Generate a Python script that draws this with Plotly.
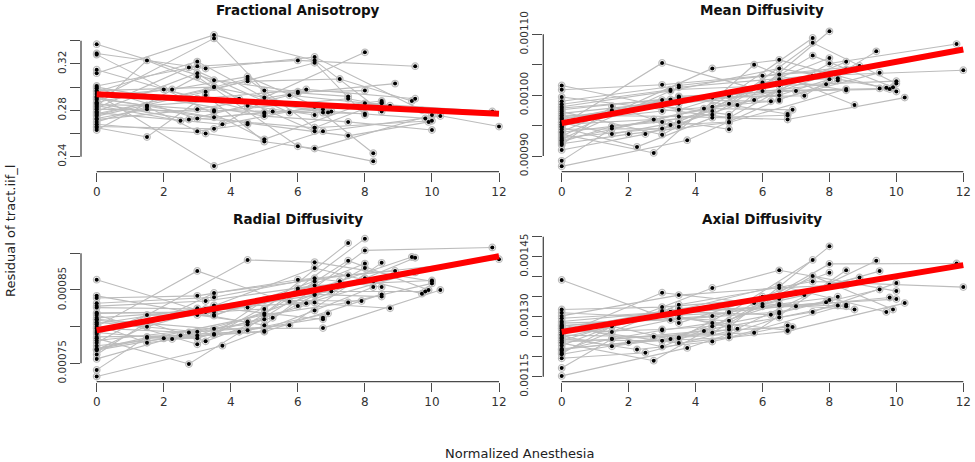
import plotly.graph_objects as go

W, H = 975, 462

# ---------------- data ----------------
# visits (normalized anesthesia) per subject, shared by all four panels
subject_x = [
    [0, 1.5, 3.5, 6.5], [0, 3, 5, 8], [0, 3.5, 6.5, 8.5], [0, 1.5, 3, 4.5],
    [0, 3.5, 5, 7.5], [0, 3, 6, 9.5], [0, 4.5, 6.5, 10], [0, 3.5, 6, 8],
    [0, 1.5, 3.25, 5], [0, 3, 4.5, 6.5], [0, 2.75, 5.75, 8.75], [0, 3.5, 6.75, 10.25],
    [0, 3.25, 6.5, 9.7], [0, 2.25, 4.5, 6.75], [0, 3, 6, 8.25], [0, 5, 8, 11.8],
    [0, 3.5, 7.5, 12], [0, 1.5, 3.5, 5], [0, 3, 6.5, 8.5], [0, 4.5, 7.25, 9.4],
    [0, 3.5, 5, 7.9], [0, 2.5, 5.25, 8], [0, 3, 6.25, 9.5], [0, 1.5, 4.25, 6.9],
    [0, 3.25, 6.5, 10], [0, 3.5, 7, 9.8], [0, 2, 5, 8.5], [0, 3, 6, 8.9],
    [0, 4.5, 7.5, 9.9], [0, 3.75, 6.5, 8.25], [0, 1.5, 3.5, 6.75], [0, 3.25, 6.5, 8],
    [0, 2.75, 5.75, 8.5], [0, 5, 7.5, 10],
]

fa = [
    [0.283, 0.323, 0.300, 0.262], [0.296, 0.322, 0.291, 0.330], [0.312, 0.345, 0.323, 0.279],
    [0.270, 0.283, 0.262, 0.268], [0.289, 0.342, 0.297, 0.292], [0.301, 0.318, 0.323, 0.318],
    [0.276, 0.307, 0.265, 0.271], [0.337, 0.306, 0.296, 0.297], [0.265, 0.257, 0.293, 0.253],
    [0.279, 0.312, 0.284, 0.276], [0.286, 0.272, 0.293, 0.284], [0.294, 0.232, 0.262, 0.275],
    [0.329, 0.316, 0.326, 0.280], [0.292, 0.298, 0.309, 0.281], [0.263, 0.309, 0.249, 0.236],
    [0.328, 0.255, 0.286, 0.279], [0.281, 0.279, 0.290, 0.266], [0.273, 0.281, 0.274, 0.278],
    [0.299, 0.273, 0.265, 0.287], [0.277, 0.305, 0.307, 0.288], [0.266, 0.264, 0.288, 0.282],
    [0.284, 0.271, 0.279, 0.277], [0.315, 0.290, 0.298, 0.290], [0.290, 0.284, 0.290, 0.278],
    [0.268, 0.260, 0.247, 0.276], [0.297, 0.300, 0.279, 0.273], [0.287, 0.298, 0.277, 0.288],
    [0.272, 0.281, 0.295, 0.303], [0.291, 0.269, 0.258, 0.270], [0.278, 0.268, 0.283, 0.243],
    [0.285, 0.284, 0.280, 0.278], [0.275, 0.296, 0.321, 0.276], [0.282, 0.317, 0.278, 0.286],
    [0.300, 0.275, 0.270, 0.263],
]

md = [
    [94.0e-5, 97.5e-5, 98.6e-5, 100.6e-5], [96.2e-5, 98.2e-5, 96.8e-5, 110.5e-5],
    [99.0e-5, 101.6e-5, 103.4e-5, 104.2e-5], [92.3e-5, 94.9e-5, 95.6e-5, 97.4e-5],
    [97.6e-5, 99.6e-5, 99.9e-5, 109.4e-5], [95.1e-5, 105.3e-5, 100.7e-5, 101.1e-5],
    [93.3e-5, 104.4e-5, 105.8e-5, 100.6e-5], [101.6e-5, 97.6e-5, 101.8e-5, 106.1e-5],
    [91.8e-5, 98.2e-5, 95.1e-5, 95.6e-5], [95.6e-5, 97.4e-5, 98.1e-5, 99.1e-5],
    [93.6e-5, 90.5e-5, 105.0e-5, 98.4e-5], [96.7e-5, 96.5e-5, 96.0e-5, 99.6e-5],
    [98.1e-5, 100.7e-5, 104.4e-5, 101.2e-5], [94.7e-5, 91.5e-5, 96.3e-5, 96.7e-5],
    [97.3e-5, 93.5e-5, 102.1e-5, 102.8e-5], [99.7e-5, 96.3e-5, 105.2e-5, 108.4e-5],
    [92.8e-5, 101.3e-5, 103.2e-5, 104.1e-5], [95.5e-5, 93.6e-5, 95.6e-5, 94.4e-5],
    [94.4e-5, 94.5e-5, 102.6e-5, 100.8e-5], [97.0e-5, 99.6e-5, 99.9e-5, 107.2e-5],
    [93.0e-5, 94.8e-5, 100.0e-5, 101.8e-5], [91.0e-5, 93.6e-5, 98.4e-5, 103.4e-5],
    [96.0e-5, 99.2e-5, 99.0e-5, 103.7e-5], [89.2e-5, 94.5e-5, 97.8e-5, 97.6e-5],
    [98.5e-5, 100.9e-5, 101.6e-5, 102.3e-5], [94.9e-5, 99.8e-5, 100.7e-5, 101.0e-5],
    [92.0e-5, 93.6e-5, 95.5e-5, 101.0e-5], [100.9e-5, 101.7e-5, 103.2e-5, 104.8e-5],
    [93.9e-5, 96.8e-5, 106.5e-5, 101.3e-5], [88.3e-5, 92.6e-5, 99.3e-5, 102.4e-5],
    [96.4e-5, 97.3e-5, 99.7e-5, 96.9e-5], [97.9e-5, 99.3e-5, 100.0e-5, 102.6e-5],
    [95.2e-5, 96.0e-5, 99.2e-5, 105.5e-5], [92.6e-5, 98.6e-5, 108.6e-5, 101.9e-5],
]

rd = [
    [79.0e-5, 81.6e-5, 81.5e-5, 86.2e-5], [80.6e-5, 79.3e-5, 81.8e-5, 92.0e-5],
    [83.2e-5, 84.0e-5, 86.6e-5, 85.4e-5], [77.0e-5, 78.5e-5, 78.4e-5, 80.7e-5],
    [81.8e-5, 82.0e-5, 82.4e-5, 91.4e-5], [80.0e-5, 87.6e-5, 82.8e-5, 89.4e-5],
    [77.8e-5, 89.1e-5, 88.8e-5, 86.2e-5], [86.4e-5, 81.6e-5, 84.9e-5, 88.6e-5],
    [76.2e-5, 80.6e-5, 78.0e-5, 81.0e-5], [79.7e-5, 81.6e-5, 80.6e-5, 83.3e-5],
    [78.4e-5, 74.9e-5, 83.4e-5, 82.5e-5], [81.0e-5, 79.7e-5, 79.8e-5, 85.0e-5],
    [82.6e-5, 82.4e-5, 88.0e-5, 84.5e-5], [79.2e-5, 78.3e-5, 79.5e-5, 81.2e-5],
    [81.6e-5, 77.6e-5, 85.2e-5, 86.2e-5], [84.2e-5, 80.2e-5, 90.4e-5, 90.8e-5],
    [76.8e-5, 84.6e-5, 87.0e-5, 89.2e-5], [80.3e-5, 77.8e-5, 78.9e-5, 79.4e-5],
    [78.6e-5, 78.8e-5, 84.4e-5, 84.1e-5], [81.2e-5, 82.6e-5, 86.2e-5, 89.5e-5],
    [77.4e-5, 79.0e-5, 83.6e-5, 83.5e-5], [75.6e-5, 78.8e-5, 81.2e-5, 88.0e-5],
    [80.4e-5, 82.5e-5, 83.2e-5, 87.4e-5], [74.1e-5, 78.6e-5, 79.3e-5, 81.8e-5],
    [82.8e-5, 83.5e-5, 85.6e-5, 86.3e-5], [79.4e-5, 82.9e-5, 84.8e-5, 84.8e-5],
    [76.8e-5, 78.4e-5, 79.3e-5, 84.4e-5], [83.9e-5, 84.2e-5, 86.4e-5, 87.6e-5],
    [78.1e-5, 80.3e-5, 89.0e-5, 85.0e-5], [73.2e-5, 77.4e-5, 82.2e-5, 85.4e-5],
    [80.9e-5, 80.0e-5, 82.6e-5, 81.0e-5], [81.9e-5, 82.0e-5, 84.3e-5, 86.6e-5],
    [79.8e-5, 79.2e-5, 80.2e-5, 88.7e-5], [76.9e-5, 81.6e-5, 83.3e-5, 85.9e-5],
]

ad = [
    [124.0e-5, 127.8e-5, 132.0e-5, 134.5e-5], [127.0e-5, 131.0e-5, 127.4e-5, 147.6e-5],
    [130.2e-5, 135.4e-5, 137.2e-5, 138.0e-5], [121.6e-5, 124.5e-5, 126.6e-5, 128.4e-5],
    [127.6e-5, 130.4e-5, 131.0e-5, 144.2e-5], [125.6e-5, 136.0e-5, 133.2e-5, 141.4e-5],
    [122.8e-5, 137.2e-5, 141.6e-5, 136.4e-5], [139.2e-5, 128.4e-5, 135.0e-5, 141.0e-5],
    [120.8e-5, 127.6e-5, 124.4e-5, 126.8e-5], [126.1e-5, 126.8e-5, 127.6e-5, 130.8e-5],
    [123.4e-5, 119.0e-5, 133.4e-5, 131.8e-5], [127.3e-5, 123.4e-5, 126.4e-5, 133.4e-5],
    [128.8e-5, 131.2e-5, 137.8e-5, 131.2e-5], [124.6e-5, 121.8e-5, 123.8e-5, 127.8e-5],
    [128.0e-5, 122.5e-5, 132.6e-5, 135.0e-5], [131.0e-5, 129.0e-5, 143.2e-5, 143.3e-5],
    [121.2e-5, 133.0e-5, 138.8e-5, 137.4e-5], [125.2e-5, 122.6e-5, 124.8e-5, 125.6e-5],
    [124.2e-5, 124.0e-5, 133.2e-5, 132.6e-5], [127.8e-5, 130.2e-5, 135.4e-5, 144.0e-5],
    [122.0e-5, 124.6e-5, 131.2e-5, 133.6e-5], [119.6e-5, 121.0e-5, 127.0e-5, 138.0e-5],
    [126.6e-5, 131.4e-5, 130.5e-5, 136.8e-5], [117.2e-5, 124.4e-5, 126.4e-5, 127.4e-5],
    [129.6e-5, 131.2e-5, 132.8e-5, 134.4e-5], [124.8e-5, 131.2e-5, 132.6e-5, 134.8e-5],
    [121.8e-5, 123.6e-5, 124.8e-5, 133.0e-5], [131.8e-5, 132.4e-5, 134.4e-5, 139.8e-5],
    [123.6e-5, 126.0e-5, 140.2e-5, 131.8e-5], [115.2e-5, 122.2e-5, 129.8e-5, 132.8e-5],
    [127.0e-5, 126.2e-5, 129.6e-5, 126.6e-5], [128.4e-5, 129.2e-5, 131.2e-5, 134.2e-5],
    [125.4e-5, 125.0e-5, 126.0e-5, 141.6e-5], [120.6e-5, 127.6e-5, 131.2e-5, 138.4e-5],
]

# fitted (red) lines, end points at x = 0 and x = 12
fit_x = [0, 12]
fa_fit = [0.2938, 0.2770]
md_fit = [95.4e-5, 107.5e-5]
rd_fit = [79.5e-5, 89.6e-5]
ad_fit = [126.2e-5, 142.9e-5]

titles = ["Fractional Anisotropy", "Mean Diffusivity", "Radial Diffusivity", "Axial Diffusivity"]
x_ticks = [0, 2, 4, 6, 8, 10, 12]
fa_ticks = [0.24, 0.26, 0.28, 0.30, 0.32, 0.34]
fa_ticklabels = ["0.24", "", "0.28", "", "0.32", ""]
md_ticks = [90e-5, 95e-5, 100e-5, 105e-5, 110e-5]
md_ticklabels = ["0.00090", "", "0.00100", "", "0.00110"]
rd_ticks = [75e-5, 80e-5, 85e-5, 90e-5]
rd_ticklabels = ["0.00075", "", "0.00085", ""]
ad_ticks = [115e-5, 120e-5, 125e-5, 130e-5, 135e-5, 140e-5, 145e-5, 150e-5]
ad_ticklabels = ["0.00115", "", "", "0.00130", "", "", "0.00145", ""]

x_title = "Normalized Anesthesia"
y_title = "Residual of tract.iif_l"

# ---------------- layout geometry (pixels) ----------------
def px(x):
    return x / W

def py(y):
    return 1 - y / H

col_dom = [[px(81), px(515)], [px(543.3), 1.0]]
row_dom = [[py(171.7), py(22.7)], [py(381.7), py(232.8)]]
x_ranges = [[-0.468, 12.477], [-0.550, 12.350]]
y_ranges = [[0.22707, 0.35552], [0.0008742, 0.0011191],
            [0.0007249, 0.000928], [0.0011375, 0.0015098]]

panels = [
    (fa, fa_fit, fa_ticks, fa_ticklabels),
    (md, md_fit, md_ticks, md_ticklabels),
    (rd, rd_fit, rd_ticks, rd_ticklabels),
    (ad, ad_fit, ad_ticks, ad_ticklabels),
]

FONT = "DejaVu Sans"
AXC = "#4a4a4a"

fig = go.Figure()
layout = dict(
    width=W, height=H, margin=dict(l=0, r=0, t=0, b=0, pad=0, autoexpand=False),
    paper_bgcolor="white", plot_bgcolor="white", showlegend=False,
    font=dict(family=FONT, color="#333333"),
)
shapes = []
annotations = []

for i, (vals, fit, yt, ytl) in enumerate(panels):
    r, c = divmod(i, 2)
    n = "" if i == 0 else str(i + 1)
    xa, ya = "x" + n, "y" + n

    # grey subject trajectories
    gx, gy = [], []
    for sx, sy in zip(subject_x, vals):
        gx += list(sx) + [None]
        gy += list(sy) + [None]
    fig.add_trace(go.Scatter(
        x=gx, y=gy, mode="lines+markers", xaxis=xa, yaxis=ya,
        line=dict(color="#bcbcbc", width=1.1),
        marker=dict(symbol="circle-open", size=6.5, color="#bdbdbd", line=dict(width=1.3)),
        hoverinfo="skip", cliponaxis=False,
    ))
    # black points
    bx = [v for sx in subject_x for v in sx]
    by = [v for sy in vals for v in sy]
    fig.add_trace(go.Scatter(
        x=bx, y=by, mode="markers", xaxis=xa, yaxis=ya,
        marker=dict(symbol="circle", size=4, color="black"),
        cliponaxis=False,
    ))
    # red fitted line
    fig.add_trace(go.Scatter(
        x=fit_x, y=fit, mode="lines", xaxis=xa, yaxis=ya,
        line=dict(color="#ff0000", width=6), cliponaxis=False,
    ))

    layout["xaxis" + n] = dict(
        domain=col_dom[c], range=x_ranges[c], anchor=ya,
        showgrid=False, zeroline=False, showline=False, automargin=False,
        ticks="outside", ticklen=9, tickwidth=1.3, tickcolor=AXC,
        tickvals=x_ticks, ticktext=[str(t) for t in x_ticks],
        tickfont=dict(family=FONT, size=12, color="#333333"),
    )
    layout["yaxis" + n] = dict(
        domain=row_dom[r], range=y_ranges[i], anchor=xa,
        showgrid=False, zeroline=False, showline=False, automargin=False,
        ticks="outside", ticklen=10, tickwidth=1.3, tickcolor=AXC,
        tickvals=yt, ticktext=ytl, tickangle=-90,
        tickfont=dict(family=FONT, size=10.5, color="#333333"),
    )
    # R-style axis lines spanning only the tick range
    shapes.append(dict(type="line", xref=xa, yref="paper",
                       x0=x_ticks[0], x1=x_ticks[-1], y0=row_dom[r][0], y1=row_dom[r][0],
                       line=dict(color=AXC, width=1.3)))
    shapes.append(dict(type="line", xref="paper", yref=ya,
                       x0=col_dom[c][0], x1=col_dom[c][0], y0=yt[0], y1=yt[-1],
                       line=dict(color=AXC, width=1.3)))

# panel titles
title_pos = [(298, 10), (762, 10), (298, 219), (762, 219)]
for t, (tx, ty) in zip(titles, title_pos):
    annotations.append(dict(
        text="<b>" + t + "</b>", x=px(tx), y=py(ty), xref="paper", yref="paper",
        xanchor="center", yanchor="middle", showarrow=False,
        font=dict(family=FONT, size=13.5, color="#111111"),
    ))

annotations.append(dict(
    text=x_title, x=px(519), y=py(453), xref="paper", yref="paper",
    xanchor="center", yanchor="middle", showarrow=False,
    font=dict(family=FONT, size=13, color="#222222"),
))
annotations.append(dict(
    text=y_title, x=px(10), y=py(231), xref="paper", yref="paper",
    xanchor="center", yanchor="middle", showarrow=False, textangle=-90,
    font=dict(family=FONT, size=13, color="#222222"),
))

layout["shapes"] = shapes
layout["annotations"] = annotations
fig.update_layout(**layout)
fig.write_html(
    "out.html",
    config={"displayModeBar": False},
    post_script="document.body.style.margin='0';document.body.style.overflow='hidden';",
)
